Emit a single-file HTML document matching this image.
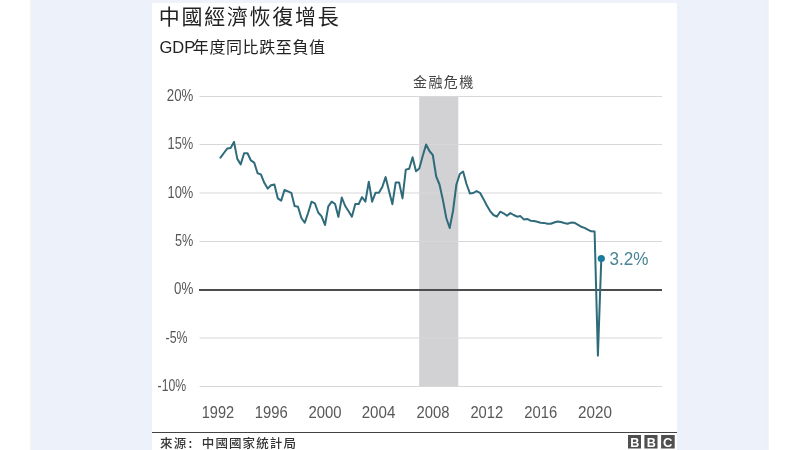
<!DOCTYPE html>
<html><head><meta charset="utf-8">
<style>
html,body{margin:0;padding:0;}
body{width:800px;height:450px;overflow:hidden;background:#fff;position:relative;}
.bgl{position:absolute;left:30px;top:0;width:122px;height:450px;background:linear-gradient(90deg,#f3f4f6 0px,#eef0f5 2px,#edf1fa 3px,#edf1fa 100%);}
.bgr{position:absolute;left:677px;top:0;width:92px;height:450px;background:linear-gradient(90deg,#edf1fa 0px,#edf1fa 89px,#eef0f5 90.5px,#f5f6f7 92px);}
.strip{position:absolute;left:152px;top:0;width:525px;height:3px;background:#eff2fa;}
svg{position:absolute;left:0;top:0;}
.t{font-family:"Liberation Sans","Noto Sans CJK TC",sans-serif;}
.c{font-family:"Noto Sans CJK TC","Liberation Sans",sans-serif;}
</style></head><body>
<div class="bgl"></div><div class="bgr"></div><div class="strip"></div>
<svg width="800" height="450" viewBox="0 0 800 450">
<rect x="419.2" y="96" width="39.1" height="290.5" fill="#d2d2d4"/>
<g stroke="#d8d8d8" stroke-width="1">
<line x1="199.5" y1="96.5" x2="662" y2="96.5"/>
<line x1="199.5" y1="144.5" x2="662" y2="144.5"/>
<line x1="199.5" y1="193" x2="662" y2="193"/>
<line x1="199.5" y1="241.5" x2="662" y2="241.5"/>
<line x1="199.5" y1="338" x2="662" y2="338"/>
<line x1="199.5" y1="386.5" x2="662" y2="386.5"/>
</g>
<line x1="199" y1="290" x2="662" y2="290" stroke="#4c4c4c" stroke-width="2"/>
<polyline points="220.5,157.6 223.9,153.0 227.2,148.6 230.6,148.0 234.0,141.9 237.3,158.9 240.7,164.4 244.1,153.3 247.5,153.3 250.8,160.3 254.2,162.6 257.6,173.3 260.9,174.4 264.3,182.8 267.7,188.6 271.0,185.3 274.4,184.4 277.8,198.3 281.2,200.6 284.5,190.0 287.9,191.4 291.3,192.8 294.6,206.1 298.0,206.7 301.4,218.0 304.7,222.8 308.1,213.0 311.5,201.7 314.9,203.3 318.2,212.5 321.6,216.3 325.0,225.0 328.3,206.3 331.7,201.7 335.1,204.0 338.4,216.9 341.8,197.5 345.2,206.0 348.6,211.3 351.9,216.7 355.3,204.0 358.7,204.0 362.0,197.1 365.4,201.7 368.8,181.7 372.1,201.7 375.5,192.8 378.9,192.8 382.3,187.0 385.6,177.1 389.0,191.0 392.4,204.2 395.7,182.4 399.1,182.4 402.5,198.4 405.8,169.6 409.2,168.7 412.6,157.3 416.0,171.2 419.3,168.5 422.7,156.0 426.1,144.5 429.4,151.0 432.8,155.0 436.2,176.5 439.5,184.5 442.9,200.0 446.3,218.0 449.7,228.0 453.0,211.0 456.4,184.5 459.8,174.0 463.1,171.5 466.5,184.0 469.9,193.5 473.2,193.0 476.6,191.1 480.0,192.8 483.4,198.9 486.7,205.3 490.1,211.1 493.5,215.0 496.8,216.7 500.2,211.7 503.6,213.3 506.9,215.8 510.3,213.1 513.7,215.0 517.1,216.7 520.4,216.1 523.8,219.4 527.2,218.9 530.5,220.7 533.9,221.0 537.3,221.7 540.6,222.7 544.0,222.9 547.4,223.7 550.8,223.8 554.1,222.5 557.5,221.5 560.9,222.0 564.2,223.0 567.6,223.7 571.0,222.6 574.3,222.7 577.7,224.7 581.1,226.7 584.5,227.9 587.8,229.7 591.2,231.3 594.6,231.5 597.9,355.6 601.3,258.5" fill="none" stroke="#2f6b7a" stroke-width="2.0" stroke-linejoin="round" stroke-linecap="round"/>
<circle cx="601.3" cy="258.5" r="3.6" fill="#1a7a9a"/>
<text class="t" x="609.5" y="264.9" font-size="19" fill="#4a8496" textLength="39" lengthAdjust="spacingAndGlyphs">3.2%</text>
<g class="t" font-size="15.6" fill="#585858" text-anchor="end">
<text x="193.3" y="101" textLength="26.5" lengthAdjust="spacingAndGlyphs">20%</text>
<text x="193.3" y="149.4" textLength="25.8" lengthAdjust="spacingAndGlyphs">15%</text>
<text x="193.3" y="197.7" textLength="25.8" lengthAdjust="spacingAndGlyphs">10%</text>
<text x="193.3" y="246.1" textLength="18.3" lengthAdjust="spacingAndGlyphs">5%</text>
<text x="193.3" y="294.4" textLength="19.3" lengthAdjust="spacingAndGlyphs">0%</text>
<text x="187.6" y="342.8" textLength="22" lengthAdjust="spacingAndGlyphs">-5%</text>
<text x="186.2" y="391.1" textLength="28.6" lengthAdjust="spacingAndGlyphs">-10%</text>
</g>
<g class="t" font-size="15.8" fill="#585858">
<text x="201.7" y="418.2" textLength="32.4" lengthAdjust="spacingAndGlyphs">1992</text>
<text x="254.8" y="418.2" textLength="33.0" lengthAdjust="spacingAndGlyphs">1996</text>
<text x="308.5" y="418.2" textLength="33.1" lengthAdjust="spacingAndGlyphs">2000</text>
<text x="361.7" y="418.2" textLength="33.6" lengthAdjust="spacingAndGlyphs">2004</text>
<text x="416.4" y="418.2" textLength="33.0" lengthAdjust="spacingAndGlyphs">2008</text>
<text x="470.4" y="418.2" textLength="32.8" lengthAdjust="spacingAndGlyphs">2012</text>
<text x="524.2" y="418.2" textLength="33.0" lengthAdjust="spacingAndGlyphs">2016</text>
<text x="578.0" y="418.2" textLength="33.9" lengthAdjust="spacingAndGlyphs">2020</text>
</g>
<text class="c" x="413" y="87.4" font-size="14" fill="#444" letter-spacing="1.4">金融危機</text>
<text class="c" x="158.8" y="24" font-size="21" fill="#222" letter-spacing="1.7">中國經濟恢復增長</text>
<text class="t" x="159.5" y="53" font-size="16.5" fill="#222">GDP<tspan x="192.8" font-size="16" letter-spacing="0.6">年度同比跌至負值</tspan></text>
<line x1="152" y1="432.5" x2="677" y2="432.5" stroke="#444" stroke-width="1"/>
<g class="c" font-size="12.5" fill="#333" font-weight="500"><text x="160" y="447.5" letter-spacing="1.3">來源</text><text x="188.5" y="447.5">:</text><text x="201.8" y="447.5" letter-spacing="1.1">中國國家統計局</text></g>
<g>
<rect x="628" y="435" width="13" height="13.5" fill="#4f4f4f"/>
<rect x="644.4" y="435" width="13.1" height="13.5" fill="#4f4f4f"/>
<rect x="661.1" y="435" width="13.6" height="13.5" fill="#4f4f4f"/>
<g class="t" font-size="12.6" font-weight="bold" fill="#fff" text-anchor="middle">
<text x="634.8" y="446.6">B</text><text x="651.2" y="446.6">B</text><text x="667.6" y="446.6" font-size="13">C</text>
</g>
</g>
</svg>
</body></html>
